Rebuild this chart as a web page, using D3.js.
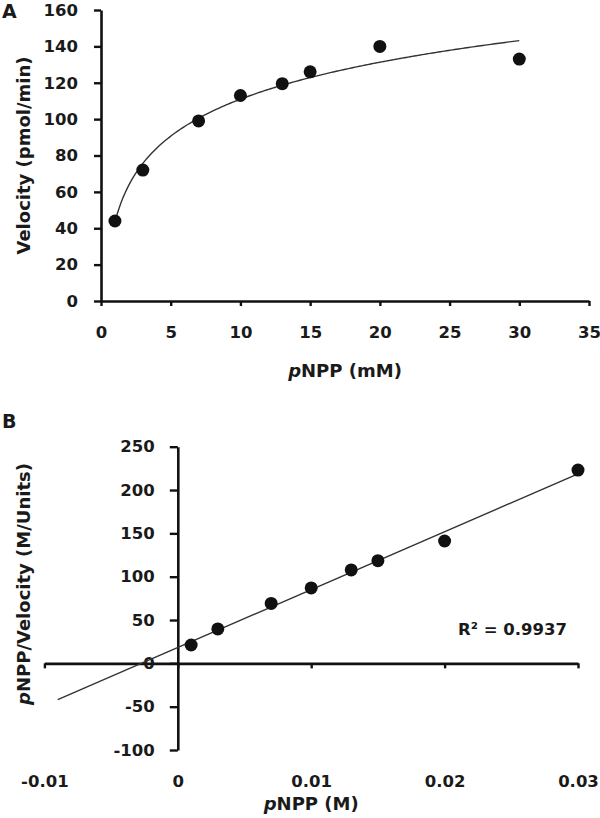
<!DOCTYPE html>
<html>
<head>
<meta charset="utf-8">
<script src="https://cdn.jsdelivr.net/npm/d3@7"></script>
<style>
  body { margin: 0; background: #fff; }
  svg { display: block; }
  text { font-family: "DejaVu Sans", sans-serif; font-weight: bold; fill: #1a1a1a; }
</style>
</head>
<body>
<svg id="chart" width="600" height="818"></svg>
<script>
// ---------- Data ----------
// Panel A: Michaelis–Menten (substrate mM vs velocity pmol/min)
const substrateMM = [1, 3, 7, 10, 13, 15, 20, 30];
const velocity    = [44, 72, 99, 113, 119.5, 126, 140, 133];
const xTicksA = [0, 5, 10, 15, 20, 25, 30, 35];
const yTicksA = [0, 20, 40, 60, 80, 100, 120, 140, 160];

// Panel B: Hanes–Woolf (substrate M vs S/v)
const substrateM = [0.001, 0.003, 0.007, 0.010, 0.013, 0.015, 0.020, 0.030];
const ratioSV    = [21.2, 39.7, 69.2, 87, 107.8, 118.5, 141.2, 223];
const xTicksB = [-0.01, 0, 0.01, 0.02, 0.03];
const yTicksB = [-100, -50, 0, 50, 100, 150, 200, 250];
const trendStartB = -0.009;   // backward forecast of the linear trendline
const r2Label = "R\u00B2 = 0.9937";

const svg = d3.select("#chart");
const axisColor = "#111";

function styleAxis(g) {
  g.select(".domain").attr("stroke", axisColor).attr("stroke-width", 2.6);
  g.selectAll(".tick line").attr("stroke", axisColor).attr("stroke-width", 2.4);
  g.selectAll(".tick text").attr("font-size", "16.5px").attr("fill", "#1a1a1a")
    .style("font-family", '"DejaVu Sans", sans-serif').style("font-weight", "bold");
}
const fmt = d => String(d).replace("\u2212", "-");

// ---------- Panel A ----------
const xA = d3.scaleLinear().domain([0, 35]).range([101, 589]);
const yA = d3.scaleLinear().domain([0, 160]).range([301, 10]);

svg.append("g").attr("transform", `translate(0,${yA(0)})`)
  .call(d3.axisBottom(xA).tickValues(xTicksA).tickFormat(fmt).tickSize(5).tickSizeOuter(0).tickPadding(20))
  .call(styleAxis);
svg.append("g").attr("transform", `translate(${xA(0)},0)`)
  .call(d3.axisLeft(yA).tickValues(yTicksA).tickFormat(fmt).tickSize(7).tickSizeOuter(0).tickPadding(16))
  .call(styleAxis);

// logarithmic trendline (least squares y = a ln x + b)
{
  const lx = substrateMM.map(Math.log);
  const mx = d3.mean(lx), my = d3.mean(velocity);
  const a = d3.sum(lx, (v, i) => (v - mx) * (velocity[i] - my)) / d3.sum(lx, v => (v - mx) ** 2);
  const b = my - a * mx;
  const xs = d3.range(0, 201).map(i => d3.min(substrateMM) + (d3.max(substrateMM) - d3.min(substrateMM)) * i / 200);
  svg.append("path")
    .attr("d", d3.line().x(d => xA(d)).y(d => yA(a * Math.log(d) + b))(xs))
    .attr("fill", "none").attr("stroke", "#333").attr("stroke-width", 1.4);
}
svg.append("g").selectAll("circle").data(substrateMM).join("circle")
  .attr("cx", d => xA(d)).attr("cy", (d, i) => yA(velocity[i])).attr("r", 6.5).attr("fill", "#111");

svg.append("text").attr("x", 2).attr("y", 18).attr("font-size", "19px").text("A");
svg.append("text").attr("transform", `translate(30,${(yA(0) + yA(160)) / 2}) rotate(-90)`)
  .attr("text-anchor", "middle").attr("font-size", "18px").text("Velocity (pmol/min)");
{
  const t = svg.append("text").attr("x", (xA(0) + xA(35)) / 2).attr("y", 377)
    .attr("text-anchor", "middle").attr("font-size", "18px");
  t.append("tspan").attr("font-style", "italic").text("p");
  t.append("tspan").text("NPP (mM)");
}

// ---------- Panel B ----------
const xB = d3.scaleLinear().domain([-0.01, 0.03]).range([44.4, 578]);
const yB = d3.scaleLinear().domain([-100, 250]).range([750, 446.7]);

const gxB = svg.append("g").attr("transform", `translate(0,${yB(0)})`)
  .call(d3.axisBottom(xB).tickValues(xTicksB).tickFormat(fmt).tickSize(5).tickSizeOuter(0))
  .call(styleAxis);
gxB.selectAll(".tick text").attr("y", yB(-100) - yB(0) + 25);

svg.append("g").attr("transform", `translate(${xB(0)},0)`)
  .call(d3.axisLeft(yB).tickValues(yTicksB).tickFormat(fmt).tickSize(8).tickSizeOuter(0).tickPadding(15))
  .call(styleAxis);

// linear trendline
{
  const mx = d3.mean(substrateM), my = d3.mean(ratioSV);
  const m = d3.sum(substrateM, (v, i) => (v - mx) * (ratioSV[i] - my)) / d3.sum(substrateM, v => (v - mx) ** 2);
  const c = my - m * mx;
  const ends = [trendStartB, d3.max(substrateM)];
  svg.append("path")
    .attr("d", d3.line().x(d => xB(d)).y(d => yB(m * d + c))(ends))
    .attr("fill", "none").attr("stroke", "#333").attr("stroke-width", 1.4);
}
svg.append("g").selectAll("circle").data(substrateM).join("circle")
  .attr("cx", d => xB(d)).attr("cy", (d, i) => yB(ratioSV[i])).attr("r", 6.5).attr("fill", "#111");

svg.append("text").attr("x", 2).attr("y", 428).attr("font-size", "19px").text("B");
{
  const t = svg.append("text").attr("transform", `translate(30,584) rotate(-90)`)
    .attr("text-anchor", "middle").attr("font-size", "18px");
  t.append("tspan").attr("font-style", "italic").text("p");
  t.append("tspan").text("NPP/Velocity (M/Units)");
}
{
  const t = svg.append("text").attr("x", (xB(-0.01) + xB(0.03)) / 2).attr("y", 810)
    .attr("text-anchor", "middle").attr("font-size", "18px");
  t.append("tspan").attr("font-style", "italic").text("p");
  t.append("tspan").text("NPP (M)");
}
svg.append("text").attr("x", 567).attr("y", 635).attr("text-anchor", "end")
  .attr("font-size", "16.5px").text(r2Label);
</script>
</body>
</html>
